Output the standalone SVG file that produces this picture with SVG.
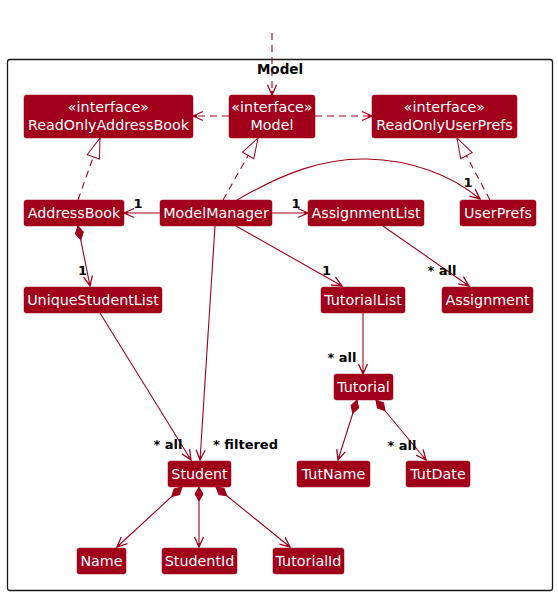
<svg xmlns="http://www.w3.org/2000/svg" width="558" height="595" viewBox="0 0 558 595">
<style>
.node rect{fill:#A0001A;stroke:#A0001A;stroke-width:0.5}
.node text{fill:#fff;font-family:"DejaVu Sans",sans-serif;font-size:14.3px;text-anchor:middle}
.c{fill:none;stroke:#A0001A;stroke-width:1.1}
.d{stroke-dasharray:7,5}
.arr{marker-end:url(#arrow)}
.real{marker-end:url(#tri)}
.comp{marker-start:url(#diamond)}
.lbl{font-family:"DejaVu Sans",sans-serif;font-size:13px;font-weight:bold;fill:#000}
</style>
<defs>
<marker id="arrow" viewBox="-12 -7 14 14" markerWidth="14" markerHeight="14" refX="0" refY="0" orient="auto" markerUnits="userSpaceOnUse" overflow="visible">
<path d="M-10,-4.5 L0,0 L-10,4.5 M0,0 L-4,0" fill="none" stroke="#A0001A" stroke-width="1.3"/>
</marker>
<marker id="tri" viewBox="-22 -8 24 16" markerWidth="24" markerHeight="16" refX="0" refY="0" orient="auto" markerUnits="userSpaceOnUse" overflow="visible">
<path d="M0,0 L-20,-6.5 L-20,6.5 Z" fill="#fff" stroke="#A0001A" stroke-width="1"/>
</marker>
<marker id="diamond" viewBox="-2 -6 18 12" markerWidth="18" markerHeight="12" refX="0" refY="0" orient="auto" markerUnits="userSpaceOnUse" overflow="visible">
<path d="M0,0 L7,-4 L14,0 L7,4 Z" fill="#A0001A" stroke="#A0001A" stroke-width="1"/>
</marker>
</defs>
<rect width="558" height="595" fill="#fff"/>
<g id="package-Model">
<rect x="7.5" y="59.5" width="545" height="531" rx="2.5" fill="none" stroke="#181818" stroke-width="1.3"/>
<text x="280" y="73.5" font-family="DejaVu Sans,sans-serif" font-size="13.5" font-weight="bold" text-anchor="middle" fill="#000">Model</text>
</g>
<g id="connectors">
<path class="c d arr" d="M272,33 L272,95"/>
<path class="c d arr" d="M229,116 L193,116"/>
<path class="c d arr" d="M315,116 L372,116"/>
<path class="c d real" d="M78,200 L100,138"/>
<path class="c d real" d="M223,200 L258,138"/>
<path class="c d real" d="M490,200 L457,138"/>
<path class="c arr" d="M160,213 L124,213"/>
<text class="lbl" x="138" y="207.5" text-anchor="middle">1</text>
<path class="c arr" d="M272,213 L308,213"/>
<text class="lbl" x="296" y="207.5" text-anchor="middle">1</text>
<path class="c arr" d="M237,200 C285,172 325,158 367,159 C410,160 450,174 480,199"/>
<text class="lbl" x="468" y="187" text-anchor="middle">1</text>
<path class="c arr" d="M236,226 L342,286"/>
<text class="lbl" x="326.5" y="274.5" text-anchor="middle">1</text>
<path class="c arr" d="M383,226 L469,286"/>
<text class="lbl" x="442" y="275" text-anchor="middle">* all</text>
<path class="c comp arr" d="M78,226 L90,286"/>
<text class="lbl" x="82.5" y="275" text-anchor="middle">1</text>
<path class="c arr" d="M100,313 L191,460"/>
<text class="lbl" x="168" y="448.5" text-anchor="middle">* all</text>
<path class="c arr" d="M215,226 L200,460"/>
<text class="lbl" x="213" y="448.5">* filtered</text>
<path class="c arr" d="M363,313 L363,374"/>
<text class="lbl" x="342" y="362" text-anchor="middle">* all</text>
<path class="c comp arr" d="M357,400 L338,460"/>
<path class="c comp arr" d="M376,400 L426,460"/>
<text class="lbl" x="402" y="449.5" text-anchor="middle">* all</text>
<path class="c comp arr" d="M182,487 L117,547"/>
<path class="c comp arr" d="M199,487 L199,547"/>
<path class="c comp arr" d="M216,487 L290,547"/>
</g>
<g id="ReadOnlyAddressBook" class="node"><rect x="24" y="95" width="169" height="43" rx="2.5"/><text x="108.5" y="112">«interface»</text><text x="108.5" y="129.5">ReadOnlyAddressBook</text></g>
<g id="Model" class="node"><rect x="229" y="95" width="86" height="43" rx="2.5"/><text x="272" y="112">«interface»</text><text x="272" y="129.5">Model</text></g>
<g id="ReadOnlyUserPrefs" class="node"><rect x="372" y="95" width="145" height="43" rx="2.5"/><text x="444.5" y="112">«interface»</text><text x="444.5" y="129.5">ReadOnlyUserPrefs</text></g>
<g id="AddressBook" class="node"><rect x="24" y="200" width="100" height="26" rx="2.5"/><text x="74" y="218">AddressBook</text></g>
<g id="ModelManager" class="node"><rect x="160" y="200" width="112" height="26" rx="2.5"/><text x="216" y="218">ModelManager</text></g>
<g id="AssignmentList" class="node"><rect x="308" y="200" width="116" height="26" rx="2.5"/><text x="366" y="218">AssignmentList</text></g>
<g id="UserPrefs" class="node"><rect x="460" y="200" width="76" height="26" rx="2.5"/><text x="498" y="218">UserPrefs</text></g>
<g id="UniqueStudentList" class="node"><rect x="24" y="287" width="138" height="26" rx="2.5"/><text x="93" y="305">UniqueStudentList</text></g>
<g id="TutorialList" class="node"><rect x="321" y="287" width="84" height="26" rx="2.5"/><text x="363" y="305">TutorialList</text></g>
<g id="Assignment" class="node"><rect x="442" y="287" width="91" height="26" rx="2.5"/><text x="487.5" y="305">Assignment</text></g>
<g id="Tutorial" class="node"><rect x="334" y="374" width="59" height="26" rx="2.5"/><text x="363.5" y="392">Tutorial</text></g>
<g id="TutName" class="node"><rect x="297" y="461" width="73" height="26" rx="2.5"/><text x="333.5" y="479">TutName</text></g>
<g id="TutDate" class="node"><rect x="406" y="461" width="64" height="26" rx="2.5"/><text x="438" y="479">TutDate</text></g>
<g id="Student" class="node"><rect x="168" y="461" width="63" height="26" rx="2.5"/><text x="199.5" y="479">Student</text></g>
<g id="Name" class="node"><rect x="77" y="548" width="49" height="26" rx="2.5"/><text x="101.5" y="566">Name</text></g>
<g id="StudentId" class="node"><rect x="162" y="548" width="75" height="26" rx="2.5"/><text x="199.5" y="566">StudentId</text></g>
<g id="TutorialId" class="node"><rect x="273" y="548" width="71" height="26" rx="2.5"/><text x="308.5" y="566">TutorialId</text></g>
</svg>
